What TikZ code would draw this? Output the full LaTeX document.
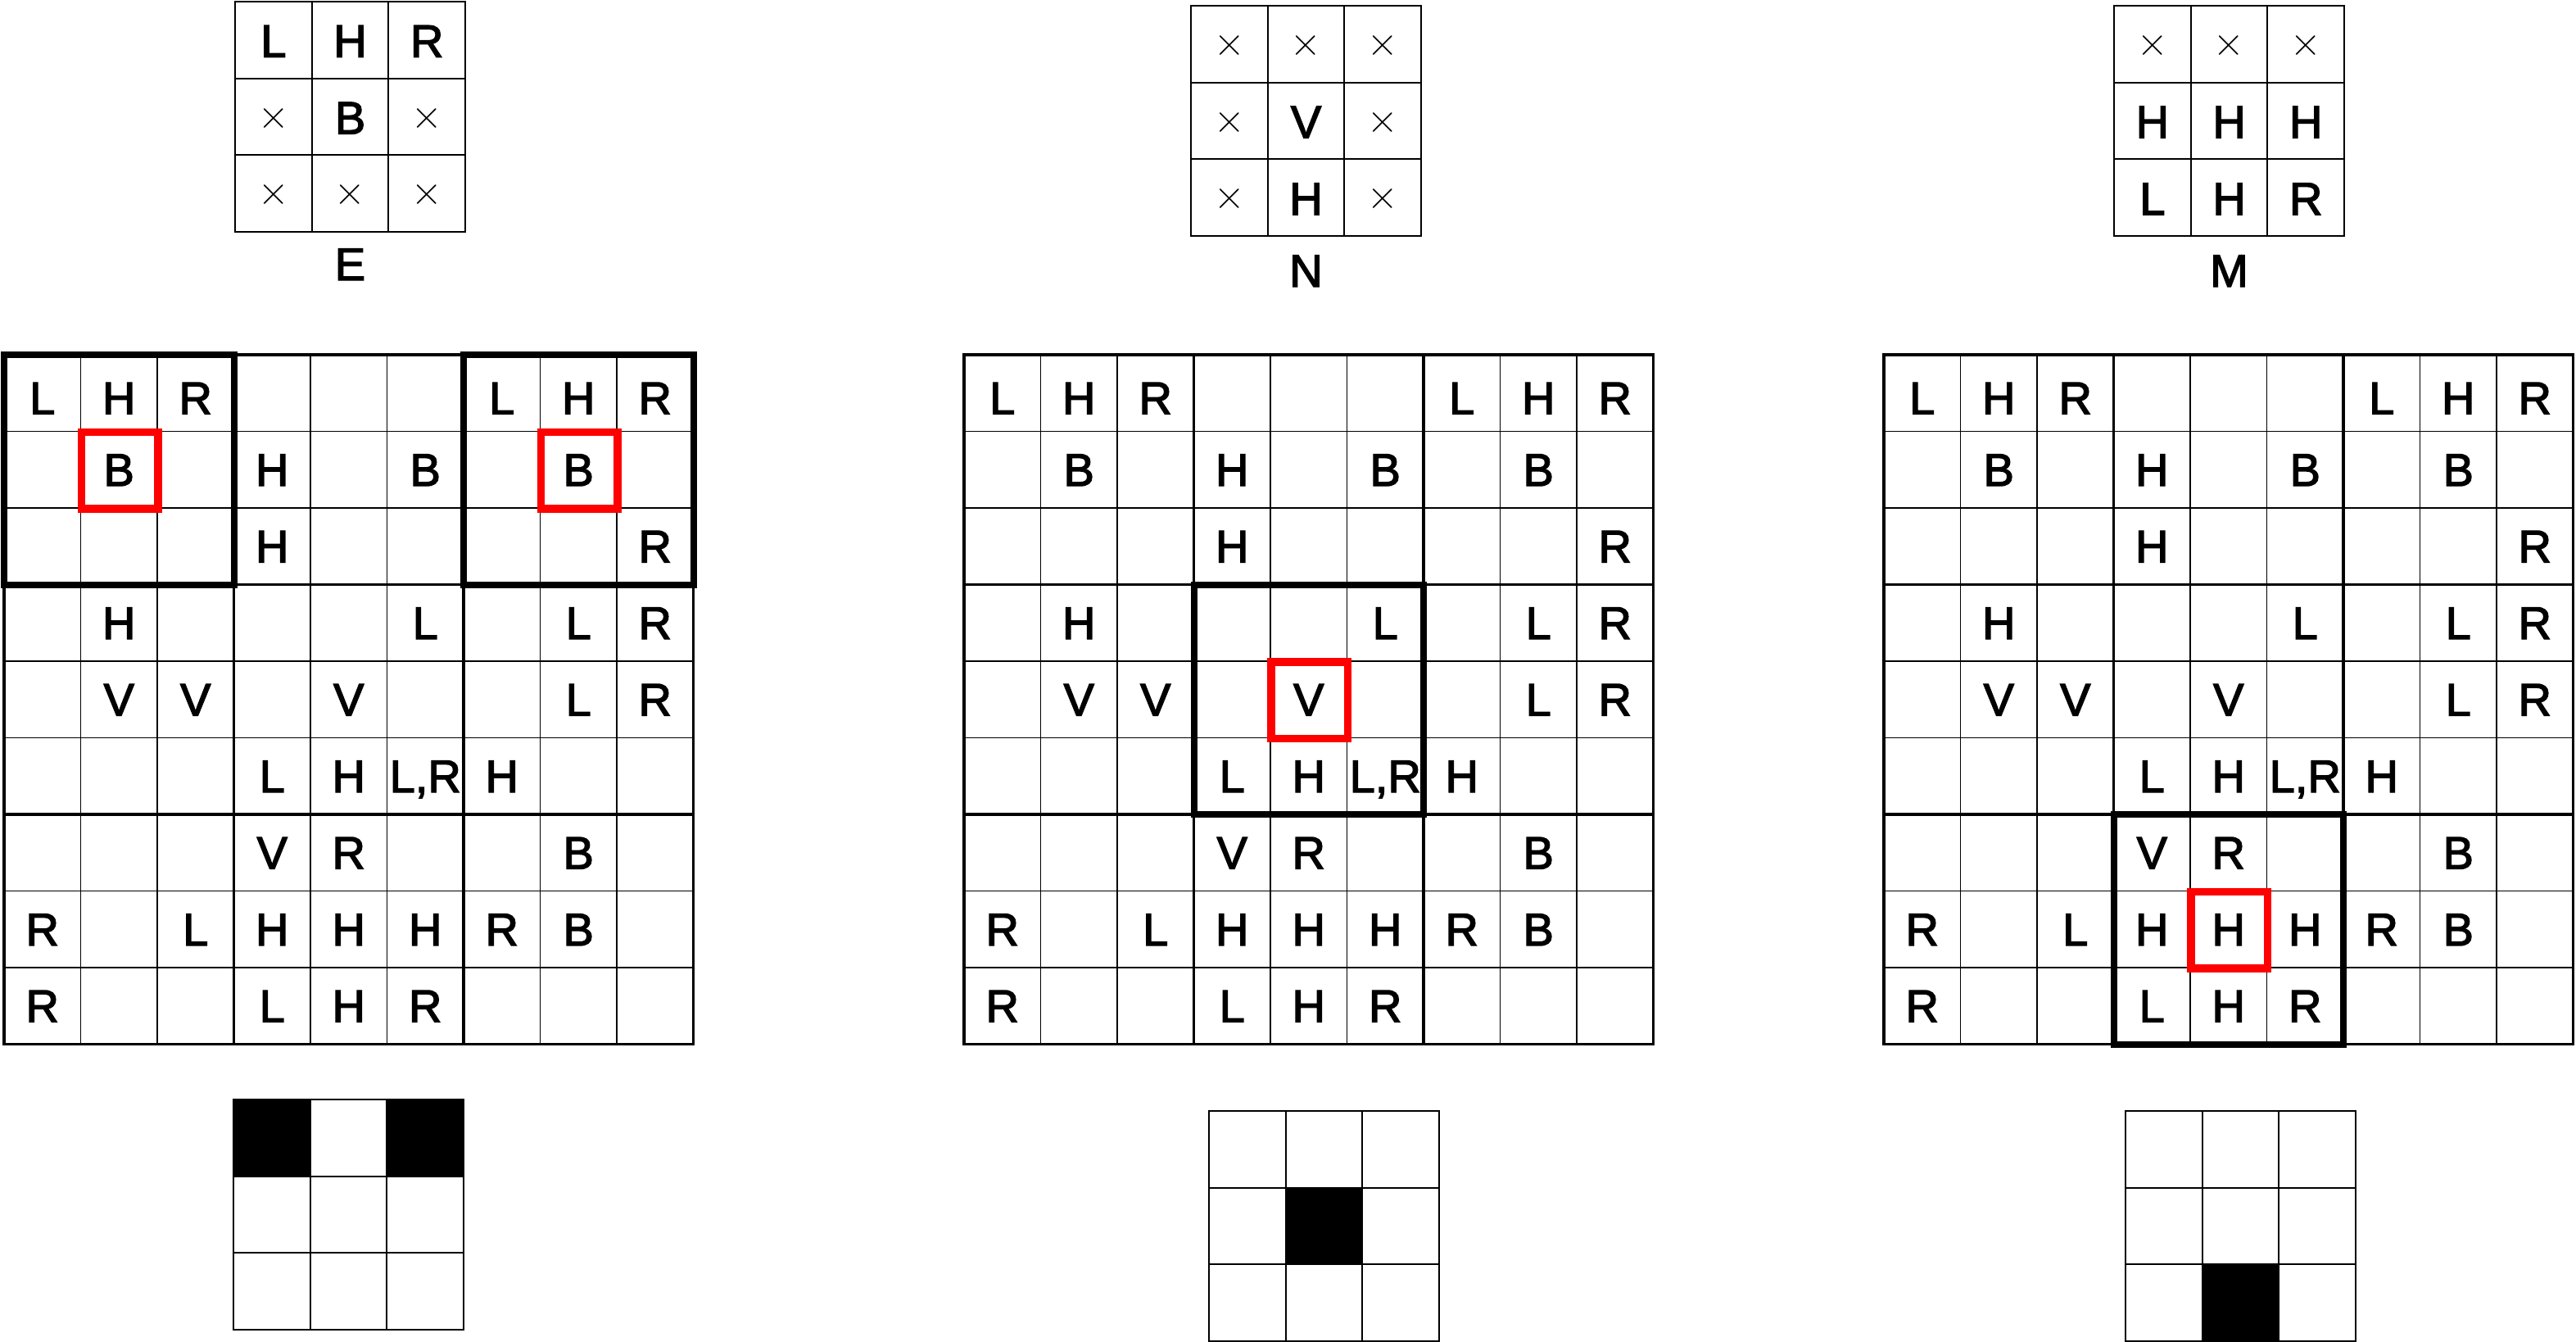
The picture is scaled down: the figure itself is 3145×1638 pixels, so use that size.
\documentclass[tikz,border=0pt]{standalone}
\usepackage{fontspec}
\setmainfont{Liberation Sans}
\newfontfamily\hv[FakeBold=2.5]{Liberation Sans}
\newfontfamily\lmr{Latin Modern Roman}
\def\cw{93.5}
\def\sw{93.7}
\tikzset{
  gthin/.style={line width=1.3pt, black},
  gblock/.style={line width=3.5pt, black},
  ghl/.style={line width=8pt, black},
  gred/.style={red, line width=9.5pt},
  sline/.style={line width=2pt, black},
  glet/.style={anchor=base, inner sep=0pt, font=\hv\fontsize{56}{60}\selectfont},
  slet/.style={anchor=base, inner sep=0pt, font=\hv\fontsize{56}{60}\selectfont},
  scross/.style={anchor=center, inner sep=0pt, font=\lmr\fontsize{52}{60}\selectfont},
  blackcell/.style={fill=black},
}
\newcommand\biggrid[3]{%
  \foreach \i in {1,2,4,5,7,8}{
    \draw[gthin] ({#2+\i*\cw},#3) -- ({#2+\i*\cw},{#3+9*\cw});
    \draw[gthin] (#2,{#3+\i*\cw}) -- ({#2+9*\cw},{#3+\i*\cw});
  }
  \foreach \i in {3,6}{
    \draw[gblock] ({#2+\i*\cw},#3) -- ({#2+\i*\cw},{#3+9*\cw});
    \draw[gblock] (#2,{#3+\i*\cw}) -- ({#2+9*\cw},{#3+\i*\cw});
  }
  \draw[gblock] (#2,#3) rectangle ({#2+9*\cw},{#3+9*\cw});
  \foreach \r/\c/\tx in {0/0/L,0/1/H,0/2/R,0/6/L,0/7/H,0/8/R,
      1/1/B,1/3/H,1/5/B,1/7/B,
      2/3/H,2/8/R,
      3/1/H,3/5/L,3/7/L,3/8/R,
      4/1/V,4/2/V,4/4/V,4/7/L,4/8/R,
      5/3/L,5/4/H,5/5/{L,R},5/6/H,
      6/3/V,6/4/R,6/7/B,
      7/0/R,7/2/L,7/3/H,7/4/H,7/5/H,7/6/R,7/7/B,
      8/0/R,8/3/L,8/4/H,8/5/R}{
    \node[glet] (#1-\r-\c) at ({#2+(\c+0.5)*\cw},{#3+(\r+1)*\cw-27+6*(\r==0)}) {\tx};
  }
}
\newcommand\hlblock[4]{% x0 y0 blockrow blockcol
  \draw[ghl] ({#1+#4*3*\cw},{#2+#3*3*\cw}) rectangle +({3*\cw},{3*\cw});
}
\newcommand\redcell[4]{% x0 y0 row col
  \draw[gred] ({#1+#4*\cw+1},{#2+#3*\cw+1}) rectangle +(\cw,\cw);
}
\newcommand\topgrid[5]{% prefix x0 y0 letters crosses
  \draw[sline] (#2,#3) rectangle ({#2+3*\sw},{#3+3*\sw});
  \foreach \i in {1,2}{
    \draw[sline] ({#2+\i*\sw},#3) -- ({#2+\i*\sw},{#3+3*\sw});
    \draw[sline] (#2,{#3+\i*\sw}) -- ({#2+3*\sw},{#3+\i*\sw});
  }
  \foreach \r/\c/\tx in {#4}{
    \node[slet] (#1-\r-\c) at ({#2+(\c+0.5)*\sw},{#3+(\r+1)*\sw-26}) {\tx};
  }
  \foreach \r/\c in {#5}{
    \node[scross] (#1-\r-\c) at ({#2+(\c+0.5)*\sw},{#3+(\r+0.5)*\sw+2}) {×};
  }
}
\newcommand\botgrid[3]{% x0 y0 black cells
  \foreach \r/\c in {#3}{
    \fill[blackcell] ({#1+\c*\sw},{#2+\r*\sw}) rectangle +(\sw,\sw);
  }
  \draw[sline] (#1,#2) rectangle ({#1+3*\sw},{#2+3*\sw});
  \foreach \i in {1,2}{
    \draw[sline] ({#1+\i*\sw},#2) -- ({#1+\i*\sw},{#2+3*\sw});
    \draw[sline] (#1,{#2+\i*\sw}) -- ({#1+3*\sw},{#2+\i*\sw});
  }
}
\begin{document}
\begin{tikzpicture}[x=1pt,y=-1pt]
\path[use as bounding box, fill=white] (0,0) rectangle (3145,1638);
% top pattern grids
\topgrid{te}{287}{2}{0/0/L,0/1/H,0/2/R,1/1/B}{1/0,1/2,2/0,2/1,2/2}
\topgrid{tn}{1454}{7}{1/1/V,2/1/H}{0/0,0/1,0/2,1/0,1/2,2/0,2/2}
\topgrid{tm}{2581}{7}{1/0/H,1/1/H,1/2/H,2/0/L,2/1/H,2/2/R}{0/0,0/1,0/2}
\node[slet] (labE) at (427.5,342) {E};
\node[slet] (labN) at (1594.5,350) {N};
\node[slet] (labM) at (2721.5,350) {M};
% big grids
\biggrid{ge}{5}{433}
\hlblock{5}{433}{0}{0}
\hlblock{5}{433}{0}{2}
\redcell{5}{433}{1}{1}
\redcell{5}{433}{1}{7}
\biggrid{gn}{1177}{433}
\hlblock{1177}{433}{1}{1}
\redcell{1177}{433}{4}{4}
\biggrid{gm}{2300}{433}
\hlblock{2300}{433}{2}{1}
\redcell{2300}{433}{7}{4}
% bottom result grids
\botgrid{285}{1342}{0/0,0/2}
\botgrid{1476}{1356}{1/1}
\botgrid{2595}{1356}{2/1}
\end{tikzpicture}
\end{document}
